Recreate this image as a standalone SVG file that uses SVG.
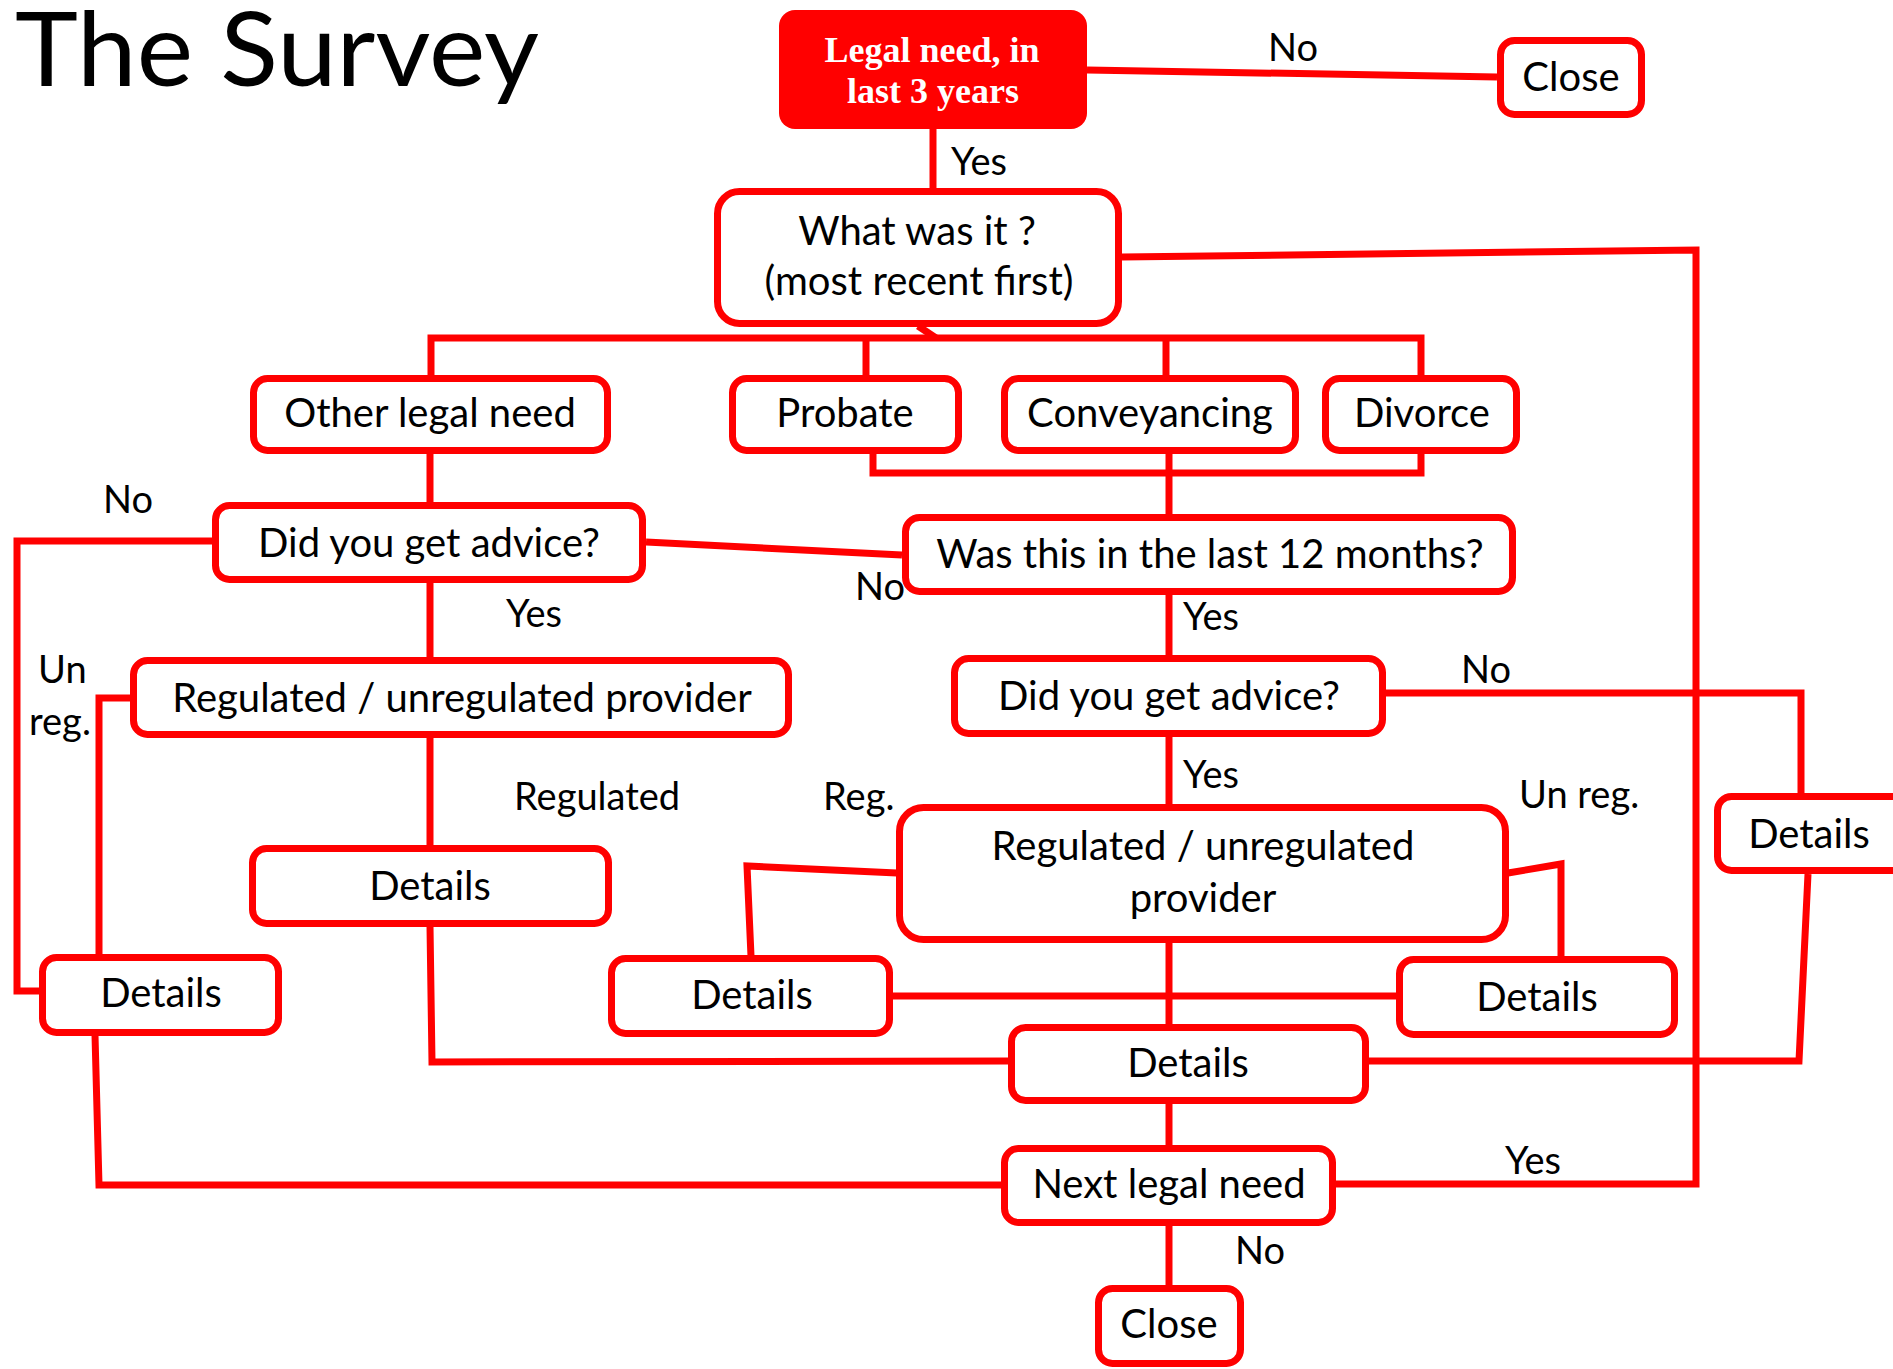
<svg xmlns="http://www.w3.org/2000/svg" width="1893" height="1369" viewBox="0 0 1893 1369">
<style>
.bx{fill:#fff;stroke:#ff0000;stroke-width:7}
.ln{fill:none;stroke:#ff0000;stroke-width:7;stroke-linejoin:miter}
.t{font-family:Lato,"Open Sans","Liberation Sans",sans-serif;font-size:40px;fill:#000;text-anchor:middle}
.lb{font-family:Lato,"Open Sans","Liberation Sans",sans-serif;font-size:38px;fill:#000}
.hd{font-family:"Liberation Serif","Times New Roman",serif;font-weight:bold;font-size:36px;fill:#fff;text-anchor:middle}
</style>
<rect width="1893" height="1369" fill="#fff"/>
<text x="15" y="86" font-family="Lato,'Open Sans','Liberation Sans',sans-serif" font-size="102" fill="#000" textLength="524" lengthAdjust="spacingAndGlyphs">The Survey</text>

<g id="connectors">
<path class="ln" d="M1087,70 L1497,77"/>
<path class="ln" d="M933,129 L933,190"/>
<path class="ln" d="M1335,1184 L1696,1184 L1696,250 L1122,257"/>
<path class="ln" d="M918,326 L936,338"/>
<path class="ln" d="M431,375 L431,338 L1421,338 L1421,375"/>
<path class="ln" d="M866,338 L866,375"/>
<path class="ln" d="M1166,338 L1166,375"/>
<path class="ln" d="M873,450 L873,473 L1421,473 L1421,450"/>
<path class="ln" d="M1169,452 L1169,515"/>
<path class="ln" d="M430,452 L430,503"/>
<path class="ln" d="M212,541 L17,541 L17,991 L40,991"/>
<path class="ln" d="M646,542 L902,555"/>
<path class="ln" d="M430,583 L430,658"/>
<path class="ln" d="M130,698 L99,698 L99,956"/>
<path class="ln" d="M430,738 L430,847"/>
<path class="ln" d="M430,926 L432,1062 L1008,1061"/>
<path class="ln" d="M95,1035 L99,1185 L1001,1185"/>
<path class="ln" d="M1169,594 L1169,657"/>
<path class="ln" d="M1386,693 L1801,693 L1801,796"/>
<path class="ln" d="M1169,736 L1169,805"/>
<path class="ln" d="M897,873 L747,866 L751,956"/>
<path class="ln" d="M1508,873 L1561,864 L1561,957"/>
<path class="ln" d="M892,996 L1396,996"/>
<path class="ln" d="M1169,942 L1169,1025"/>
<path class="ln" d="M1369,1061 L1799,1061 L1808,874"/>
<path class="ln" d="M1169,1103 L1169,1146"/>
<path class="ln" d="M1169,1225 L1169,1287"/>
</g>

<g id="n-legal"><rect x="779" y="10" width="308" height="119" rx="16" fill="#ff0000"/><text class="hd" x="932" y="62">Legal need, in</text><text class="hd" x="933" y="103">last 3 years</text></g>
<g id="n-close1"><rect class="bx" x="1500.5" y="40.5" width="141" height="74" rx="14"/><text class="t" x="1571" y="91">Close</text></g>
<g id="n-what"><rect class="bx" x="717.5" y="191.5" width="401" height="132" rx="22"/><text class="t" x="917" y="245">What was it ?</text><text class="t" x="919" y="295">(most recent first)</text></g>
<g id="n-other"><rect class="bx" x="253.5" y="378.5" width="354" height="72" rx="14"/><text class="t" x="430" y="427">Other legal need</text></g>
<g id="n-probate"><rect class="bx" x="732.5" y="378.5" width="226" height="72" rx="14"/><text class="t" x="845" y="427">Probate</text></g>
<g id="n-convey"><rect class="bx" x="1004.5" y="378.5" width="291" height="72" rx="14"/><text class="t" x="1150" y="427">Conveyancing</text></g>
<g id="n-divorce"><rect class="bx" x="1325.5" y="378.5" width="191" height="72" rx="14"/><text class="t" x="1422" y="427">Divorce</text></g>
<g id="n-advice1"><rect class="bx" x="215.5" y="505.5" width="427" height="74" rx="14"/><text class="t" x="429" y="557">Did you get advice?</text></g>
<g id="n-last12"><rect class="bx" x="905.5" y="517.5" width="607" height="74" rx="14"/><text class="t" x="1210" y="568">Was this in the last 12 months?</text></g>
<g id="n-reg1"><rect class="bx" x="133.5" y="660.5" width="655" height="74" rx="14"/><text class="t" x="462" y="712">Regulated / unregulated provider</text></g>
<g id="n-advice2"><rect class="bx" x="954.5" y="658.5" width="428" height="75" rx="14"/><text class="t" x="1169" y="710">Did you get advice?</text></g>
<g id="n-det-far"><rect class="bx" x="1717.5" y="796.5" width="200" height="74" rx="14"/><text class="t" x="1809" y="848">Details</text></g>
<g id="n-det-mid"><rect class="bx" x="252.5" y="848.5" width="356" height="75" rx="14"/><text class="t" x="430" y="900">Details</text></g>
<g id="n-reg2"><rect class="bx" x="899.5" y="807.5" width="606" height="132" rx="24"/><text class="t" x="1203" y="860">Regulated / unregulated</text><text class="t" x="1203" y="912">provider</text></g>
<g id="n-det-bl"><rect class="bx" x="42.5" y="957.5" width="236" height="75" rx="14"/><text class="t" x="161" y="1007">Details</text></g>
<g id="n-det-reg"><rect class="bx" x="611.5" y="958.5" width="278" height="75" rx="14"/><text class="t" x="752" y="1009">Details</text></g>
<g id="n-det-unreg"><rect class="bx" x="1399.5" y="959.5" width="275" height="75" rx="14"/><text class="t" x="1537" y="1011">Details</text></g>
<g id="n-det-center"><rect class="bx" x="1011.5" y="1027.5" width="354" height="73" rx="14"/><text class="t" x="1188" y="1077">Details</text></g>
<g id="n-next"><rect class="bx" x="1004.5" y="1148.5" width="328" height="74" rx="14"/><text class="t" x="1169" y="1198">Next legal need</text></g>
<g id="n-close2"><rect class="bx" x="1098.5" y="1288.5" width="142" height="75" rx="14"/><text class="t" x="1169" y="1338">Close</text></g>

<g id="labels">
<text class="lb" x="1268" y="61">No</text>
<text class="lb" x="951" y="175">Yes</text>
<text class="lb" x="103" y="513">No</text>
<text class="lb" x="855" y="600">No</text>
<text class="lb" x="506" y="627">Yes</text>
<text class="lb" x="38" y="683">Un</text>
<text class="lb" x="29" y="735">reg.</text>
<text class="lb" x="1183" y="630">Yes</text>
<text class="lb" x="1461" y="683">No</text>
<text class="lb" x="514" y="810">Regulated</text>
<text class="lb" x="823" y="810">Reg.</text>
<text class="lb" x="1183" y="788">Yes</text>
<text class="lb" x="1519" y="808">Un reg.</text>
<text class="lb" x="1505" y="1174">Yes</text>
<text class="lb" x="1235" y="1264">No</text>
</g>
</svg>
